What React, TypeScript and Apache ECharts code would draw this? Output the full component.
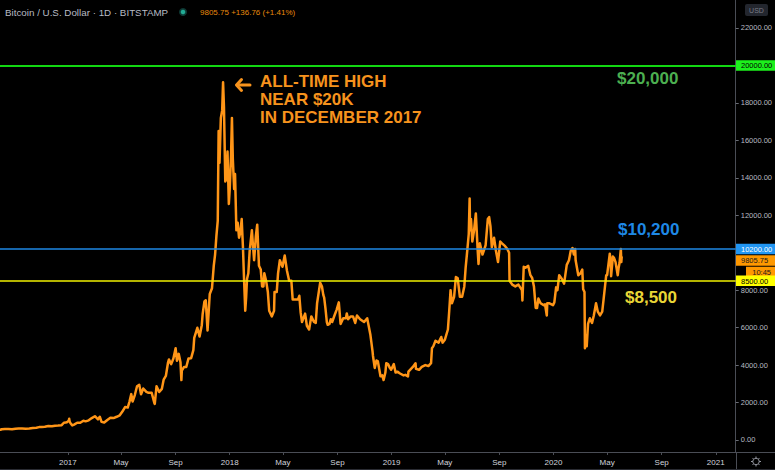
import React, { useEffect, useRef } from "react";
import * as echarts from "echarts";

// ---- Data (daily close readings, BTC/USD, Bitstamp) ----
const btc2016: [string, number][] = [
  ["2016-08-01", 606], ["2016-08-02", 547], ["2016-08-05", 575], ["2016-08-12", 587],
  ["2016-08-20", 581], ["2016-08-28", 573], ["2016-09-05", 605], ["2016-09-12", 608],
  ["2016-09-20", 608], ["2016-09-28", 604], ["2016-10-06", 612], ["2016-10-14", 638],
  ["2016-10-22", 657], ["2016-10-28", 688], ["2016-11-03", 688], ["2016-11-10", 712],
  ["2016-11-18", 750], ["2016-11-26", 735], ["2016-12-03", 765], ["2016-12-10", 773],
  ["2016-12-18", 790], ["2016-12-23", 920], ["2016-12-27", 930], ["2016-12-31", 963],
];
const btc2017: [string, number][] = [
  ["2017-01-03", 1030], ["2017-01-04", 1135], ["2017-01-05", 990], ["2017-01-07", 895],
  ["2017-01-11", 780], ["2017-01-15", 822], ["2017-01-22", 921], ["2017-01-29", 918],
  ["2017-02-05", 1025], ["2017-02-10", 995], ["2017-02-17", 1050], ["2017-02-24", 1170],
  ["2017-03-03", 1270], ["2017-03-10", 1100], ["2017-03-14", 1240], ["2017-03-18", 970],
  ["2017-03-24", 930], ["2017-03-31", 1070], ["2017-04-07", 1190], ["2017-04-14", 1170],
  ["2017-04-21", 1240], ["2017-04-28", 1320], ["2017-05-04", 1520], ["2017-05-10", 1760],
  ["2017-05-16", 1730], ["2017-05-20", 2050], ["2017-05-24", 2450], ["2017-05-27", 2050],
  ["2017-06-01", 2400], ["2017-06-06", 2870], ["2017-06-11", 2950], ["2017-06-15", 2440],
  ["2017-06-20", 2750], ["2017-06-27", 2570], ["2017-07-02", 2520], ["2017-07-09", 2520],
  ["2017-07-15", 1980], ["2017-07-16", 1930], ["2017-07-20", 2870], ["2017-07-26", 2560],
  ["2017-08-01", 2730], ["2017-08-05", 3220], ["2017-08-10", 3420], ["2017-08-15", 4150],
  ["2017-08-17", 4300], ["2017-08-22", 4050], ["2017-08-27", 4350], ["2017-09-01", 4900],
  ["2017-09-04", 4230], ["2017-09-08", 4600], ["2017-09-12", 4150], ["2017-09-14", 3200],
  ["2017-09-15", 3700], ["2017-09-20", 3900], ["2017-09-25", 3900], ["2017-09-30", 4350],
  ["2017-10-06", 4370], ["2017-10-11", 4800], ["2017-10-13", 5450], ["2017-10-20", 5990],
  ["2017-10-25", 5530], ["2017-10-30", 6130], ["2017-11-01", 6730], ["2017-11-05", 7400],
  ["2017-11-08", 7460], ["2017-11-12", 5850], ["2017-11-17", 7800], ["2017-11-22", 8100],
  ["2017-11-26", 9300], ["2017-11-29", 9900], ["2017-12-02", 10900], ["2017-12-05", 11700],
  ["2017-12-07", 16500], ["2017-12-09", 14800], ["2017-12-12", 17200], ["2017-12-15", 17600],
  ["2017-12-17", 19100], ["2017-12-19", 17800], ["2017-12-20", 16500], ["2017-12-22", 13800],
  ["2017-12-24", 13900], ["2017-12-27", 15400], ["2017-12-30", 12600],
];
const btc2018: [string, number][] = [
  ["2018-01-01", 13400], ["2018-01-04", 15200], ["2018-01-06", 17200], ["2018-01-08", 15000],
  ["2018-01-11", 13400], ["2018-01-13", 14200], ["2018-01-16", 11200], ["2018-01-17", 11250],
  ["2018-01-19", 11600], ["2018-01-22", 10800], ["2018-01-25", 11100], ["2018-01-28", 11800],
  ["2018-01-31", 10200], ["2018-02-02", 8800], ["2018-02-05", 6900], ["2018-02-07", 7600],
  ["2018-02-09", 8600], ["2018-02-12", 8900], ["2018-02-15", 10100], ["2018-02-20", 11200],
  ["2018-02-23", 10200], ["2018-02-25", 9600], ["2018-03-01", 10900], ["2018-03-04", 11500],
  ["2018-03-08", 9300], ["2018-03-12", 9100], ["2018-03-15", 8200], ["2018-03-18", 8200],
  ["2018-03-20", 8900], ["2018-03-24", 8500], ["2018-03-28", 7900], ["2018-03-31", 6900],
  ["2018-04-06", 6600], ["2018-04-11", 6900], ["2018-04-12", 7900], ["2018-04-17", 7900],
  ["2018-04-20", 8900], ["2018-04-24", 9600], ["2018-04-30", 9250], ["2018-05-05", 9850],
  ["2018-05-10", 9050], ["2018-05-15", 8500], ["2018-05-20", 8500], ["2018-05-23", 7500],
  ["2018-05-29", 7500], ["2018-06-04", 7500], ["2018-06-07", 7700], ["2018-06-10", 6800],
  ["2018-06-13", 6300], ["2018-06-20", 6750], ["2018-06-24", 6100], ["2018-06-29", 5900],
  ["2018-07-04", 6600], ["2018-07-10", 6300], ["2018-07-14", 6250], ["2018-07-17", 7300],
  ["2018-07-24", 8400], ["2018-07-28", 8200], ["2018-07-31", 7750], ["2018-08-02", 7600],
  ["2018-08-05", 7000], ["2018-08-08", 6300], ["2018-08-10", 6150], ["2018-08-14", 6200],
  ["2018-08-17", 6450], ["2018-08-20", 6300], ["2018-08-26", 6700], ["2018-08-30", 6950],
  ["2018-09-04", 7350], ["2018-09-08", 6200], ["2018-09-14", 6500], ["2018-09-20", 6500],
  ["2018-09-22", 6750], ["2018-09-25", 6450], ["2018-10-01", 6600], ["2018-10-06", 6600],
  ["2018-10-11", 6250], ["2018-10-15", 6650], ["2018-10-22", 6450], ["2018-10-31", 6300],
  ["2018-11-07", 6500], ["2018-11-14", 5650], ["2018-11-19", 4750], ["2018-11-20", 4500],
  ["2018-11-24", 3850], ["2018-11-28", 4250], ["2018-12-01", 4200], ["2018-12-07", 3400],
  ["2018-12-11", 3450], ["2018-12-14", 3200], ["2018-12-18", 3600], ["2018-12-20", 4100],
  ["2018-12-24", 4050], ["2018-12-28", 3850], ["2018-12-31", 3750],
];
const btc2019: [string, number][] = [
  ["2019-01-06", 4050], ["2019-01-10", 3600], ["2019-01-14", 3650], ["2019-01-20", 3550],
  ["2019-01-28", 3450], ["2019-02-01", 3480], ["2019-02-07", 3400], ["2019-02-08", 3650],
  ["2019-02-18", 3900], ["2019-02-24", 4100], ["2019-02-25", 3800], ["2019-03-04", 3750],
  ["2019-03-10", 3900], ["2019-03-18", 4000], ["2019-03-25", 3950], ["2019-03-31", 4100],
  ["2019-04-02", 4900], ["2019-04-05", 5000], ["2019-04-10", 5300], ["2019-04-17", 5200],
  ["2019-04-23", 5500], ["2019-04-26", 5200], ["2019-05-01", 5350], ["2019-05-08", 5900],
  ["2019-05-11", 6900], ["2019-05-14", 8000], ["2019-05-17", 7300], ["2019-05-22", 7650],
  ["2019-05-26", 8700], ["2019-05-30", 8650], ["2019-06-04", 7650], ["2019-06-09", 7650],
  ["2019-06-14", 8200], ["2019-06-17", 9200], ["2019-06-21", 10200], ["2019-06-24", 11000],
  ["2019-06-26", 12900], ["2019-06-27", 11200], ["2019-06-29", 11800], ["2019-07-02", 10600],
  ["2019-07-06", 11200], ["2019-07-10", 12100], ["2019-07-14", 10200], ["2019-07-16", 9400],
  ["2019-07-19", 10500], ["2019-07-25", 9900], ["2019-08-01", 10400], ["2019-08-06", 11800],
  ["2019-08-09", 11900], ["2019-08-12", 11400], ["2019-08-15", 10300], ["2019-08-20", 10800],
  ["2019-08-24", 10150], ["2019-08-29", 9500], ["2019-09-03", 10600], ["2019-09-07", 10500],
  ["2019-09-14", 10350], ["2019-09-19", 10200], ["2019-09-23", 10000], ["2019-09-24", 8500],
  ["2019-09-30", 8300], ["2019-10-07", 8200], ["2019-10-14", 8300], ["2019-10-22", 8000],
  ["2019-10-23", 7450], ["2019-10-25", 8650], ["2019-10-26", 9250], ["2019-10-30", 9200],
  ["2019-11-05", 9300], ["2019-11-10", 8800], ["2019-11-14", 8650], ["2019-11-18", 8200],
  ["2019-11-22", 7050], ["2019-11-25", 7050], ["2019-11-28", 7550], ["2019-12-03", 7300],
  ["2019-12-10", 7200], ["2019-12-13", 7250], ["2019-12-17", 6650], ["2019-12-18", 7300],
  ["2019-12-23", 7300], ["2019-12-31", 7200],
];
const btc2020: [string, number][] = [
  ["2020-01-03", 7350], ["2020-01-07", 8150], ["2020-01-10", 8000], ["2020-01-14", 8800],
  ["2020-01-20", 8600], ["2020-01-25", 8350], ["2020-01-31", 9350], ["2020-02-05", 9600],
  ["2020-02-09", 10100], ["2020-02-13", 10250], ["2020-02-16", 9900], ["2020-02-19", 10200],
  ["2020-02-20", 9600], ["2020-02-26", 8800], ["2020-03-02", 8900], ["2020-03-06", 9100],
  ["2020-03-08", 8050], ["2020-03-11", 7900], ["2020-03-12", 4900], ["2020-03-13", 5600],
  ["2020-03-16", 5000], ["2020-03-19", 6200], ["2020-03-23", 6500], ["2020-03-28", 6250],
  ["2020-04-01", 6650], ["2020-04-06", 7300], ["2020-04-10", 6850], ["2020-04-15", 6650],
  ["2020-04-20", 6850], ["2020-04-23", 7500], ["2020-04-29", 8800], ["2020-05-01", 8800],
  ["2020-05-07", 9950], ["2020-05-09", 9550], ["2020-05-10", 8750], ["2020-05-14", 9800],
  ["2020-05-17", 9700], ["2020-05-20", 9500], ["2020-05-25", 8800], ["2020-05-27", 9200],
  ["2020-05-29", 9450], ["2020-06-01", 10200], ["2020-06-02", 9500], ["2020-06-03", 9805.75],
];

const yTickValues = [0, 2000, 4000, 6000, 8000, 10000, 12000, 14000, 16000, 18000, 20000, 22000];
// 10000.00 is hidden behind the price tags in the reference
const yLabelValues = [0, 2000, 4000, 6000, 8000, 12000, 14000, 16000, 18000, 20000, 22000];
const xTickDates = [
  "2017-01-01", "2017-05-01", "2017-09-01", "2018-01-01", "2018-05-01", "2018-09-01",
  "2019-01-01", "2019-05-01", "2019-09-01", "2020-01-01", "2020-05-01", "2020-09-01", "2021-01-01",
];
const monthNames = ["Jan", "Feb", "Mar", "Apr", "May", "Jun", "Jul", "Aug", "Sep", "Oct", "Nov", "Dec"];

const levelValues = [20000, 10200, 8500];
const levelTexts = ["$20,000", "$10,200", "$8,500"];
const levelLineColors = ["#12d812", "#1e88e5", "#f0f000"];
const levelBoxColors = ["#1cf01c", "#2196f3", "#ffff00"];
const levelBoxTextColors = ["#000000", "#ffffff", "#000000"];
const levelTextColors = ["#4caf50", "#1e88e5", "#e9d636"];

const headerTitle = "Bitcoin / U.S. Dollar · 1D · BITSTAMP";
const lastPrice = 9805.75;
const priceChange = "+136.76 (+1.41%)";
const countdown = "10:45";
const athLines = ["ALL-TIME HIGH", "NEAR $20K", "IN DECEMBER 2017"];

const X_MIN = "2016-08-01";
const X_MAX = "2021-02-15";
const Y_MIN = -641;
const Y_MAX = 23495;

const ORANGE = "#ff9517";
const FONT = '"Liberation Sans", Arial, sans-serif';

function ts(s: string): number {
  const [y, m, d] = s.split("-").map(Number);
  return Date.UTC(y, m - 1, d);
}

export default function App() {
  const ref = useRef<HTMLDivElement>(null);

  useEffect(() => {
    document.body.style.margin = "0";
    document.body.style.background = "#000";
    const chart = echarts.init(ref.current!, null, { renderer: "svg" });
    const all = [...btc2016, ...btc2017, ...btc2018, ...btc2019, ...btc2020];
    const seriesData = all.map(([d, v]) => [ts(d), v]);
    const xTicks = xTickDates.map(ts);

    chart.setOption({
      animation: false,
      backgroundColor: "#000000",
      grid: { left: 0, right: 39, top: 0, bottom: 18, containLabel: false },
      xAxis: {
        type: "value",
        min: ts(X_MIN),
        max: ts(X_MAX),
        splitLine: { show: false },
        axisLine: { show: true, onZero: false, lineStyle: { color: "#4a4d55", width: 1 } },
        axisTick: { show: true, customValues: xTicks, length: 3, lineStyle: { color: "#4a4d55" } },
        axisLabel: {
          customValues: xTicks,
          color: "#d1d4dc",
          fontSize: 8,
          fontFamily: FONT,
          margin: 6,
          formatter: (v: number) => {
            const d = new Date(v);
            return d.getUTCMonth() === 0 ? String(d.getUTCFullYear()) : monthNames[d.getUTCMonth()];
          },
        },
      },
      yAxis: {
        type: "value",
        position: "right",
        min: Y_MIN,
        max: Y_MAX,
        splitLine: { show: false },
        axisLine: { show: true, onZero: false, lineStyle: { color: "#4a4d55", width: 1 } },
        axisTick: { show: true, customValues: yTickValues, length: 3, lineStyle: { color: "#6a6d75" } },
        axisLabel: {
          customValues: yLabelValues,
          color: "#b8bbc2",
          fontSize: 7.5,
          fontFamily: FONT,
          margin: 5,
          formatter: (v: number) => v.toFixed(2),
        },
      },
      series: [
        {
          type: "line",
          data: [],
          z: 1,
          silent: true,
          markLine: {
            silent: true,
            symbol: "none",
            label: { show: false },
            data: levelValues.map((v, i) => ({
              yAxis: v,
              lineStyle: { color: levelLineColors[i], width: i === 0 ? 2 : 1.5, type: "solid" },
            })),
          },
        },
        {
          type: "line",
          data: seriesData,
          z: 3,
          showSymbol: false,
          symbol: "none",
          lineStyle: { color: ORANGE, width: 2.5, join: "round" },
          itemStyle: { color: ORANGE },
        },
      ],
    });

    const py = (v: number) => chart.convertToPixel({ yAxisIndex: 0 }, v) as number;
    const AX = 736;
    const boxH = 10.5;
    const graphics: any[] = [];

    graphics.push({
      type: "text", x: 5, y: 12, z: 100,
      style: { text: headerTitle, fill: "#b8bbc4", fontSize: 9.8, fontFamily: FONT, verticalAlign: "middle" },
    });
    graphics.push({ type: "circle", shape: { cx: 183, cy: 12, r: 4 }, z: 100, style: { fill: "#0e3a35" } });
    graphics.push({ type: "circle", shape: { cx: 183, cy: 12, r: 2.3 }, z: 101, style: { fill: "#22ab94" } });
    graphics.push({
      type: "text", x: 200, y: 12, z: 100,
      style: {
        text: lastPrice.toFixed(2) + " " + priceChange, fill: "#e8890c", fontSize: 8,
        fontFamily: FONT, verticalAlign: "middle",
      },
    });
    graphics.push({ type: "rect", shape: { x: 745, y: 4, width: 23, height: 12, r: 2 }, z: 100, style: { fill: "#23262e" } });
    graphics.push({
      type: "text", x: 756.5, y: 10.5, z: 101,
      style: { text: "USD", fill: "#787b86", fontSize: 7, fontFamily: FONT, align: "center", verticalAlign: "middle" },
    });

    athLines.forEach((t, i) => {
      graphics.push({
        type: "text", x: 260, y: 81 + i * 18, z: 100,
        style: { text: t, fill: "#f7931d", fontSize: 17, fontWeight: "bold", fontFamily: FONT, verticalAlign: "middle" },
      });
    });
    graphics.push({
      type: "polyline", z: 100,
      shape: { points: [[241.5, 79.5], [236.5, 85], [241.5, 90.5]] },
      style: { stroke: "#f7931d", lineWidth: 3, fill: null, lineCap: "round", lineJoin: "round" },
    });
    graphics.push({
      type: "line", z: 100,
      shape: { x1: 237, y1: 85, x2: 250, y2: 85 },
      style: { stroke: "#f7931d", lineWidth: 3, lineCap: "round" },
    });

    const levelTextX = [617, 618, 625];
    const levelTextDy = [13, -19, 17];
    levelValues.forEach((v, i) => {
      graphics.push({
        type: "text", x: levelTextX[i], y: py(v) + levelTextDy[i], z: 100,
        style: {
          text: levelTexts[i], fill: levelTextColors[i], fontSize: 17, fontWeight: "bold",
          fontFamily: FONT, verticalAlign: "middle",
        },
      });
    });

    const addBox = (x: number, yc: number, w: number, fill: string, color: string, text: string) => {
      graphics.push({ type: "rect", z: 110, shape: { x, y: yc - boxH / 2, width: w, height: boxH }, style: { fill } });
      graphics.push({
        type: "text", z: 111, x: x + 5, y: yc + 0.5,
        style: { text, fill: color, fontSize: 7.5, fontFamily: FONT, verticalAlign: "middle" },
      });
    };
    levelValues.forEach((v, i) => {
      addBox(AX, py(v), 39, levelBoxColors[i], levelBoxTextColors[i], v.toFixed(2));
    });
    const blueBottom = py(levelValues[1]) + boxH / 2;
    const priceC = blueBottom + 1 + boxH / 2;
    addBox(AX, priceC, 39, "#ff9800", "#1a1a1a", lastPrice.toFixed(2));
    const timeC = priceC + boxH + 1;
    graphics.push({ type: "rect", z: 109, shape: { x: 746, y: timeC - boxH / 2, width: 29, height: boxH }, style: { fill: "#ff9800" } });
    graphics.push({
      type: "text", z: 111, x: 771, y: timeC + 0.5,
      style: { text: countdown, fill: "#1a1a1a", fontSize: 7.5, fontFamily: FONT, align: "right", verticalAlign: "middle" },
    });

    graphics.push({ type: "line", z: 50, shape: { x1: 736, y1: 452.5, x2: 775, y2: 452.5 }, style: { stroke: "#4a4d55", lineWidth: 1 } });
    graphics.push({ type: "line", z: 50, shape: { x1: 736.5, y1: 452, x2: 736.5, y2: 470 }, style: { stroke: "#4a4d55", lineWidth: 1 } });
    graphics.push({ type: "line", z: 50, shape: { x1: 0, y1: 469.5, x2: 775, y2: 469.5 }, style: { stroke: "#2a2c33", lineWidth: 1 } });

    graphics.push({ type: "circle", z: 100, shape: { cx: 756, cy: 461.5, r: 3.2 }, style: { fill: null, stroke: "#9598a1", lineWidth: 1 } });
    for (let k = 0; k < 8; k++) {
      const a = (k * Math.PI) / 4;
      graphics.push({
        type: "line", z: 100,
        shape: {
          x1: 756 + Math.cos(a) * 3.2, y1: 461.5 + Math.sin(a) * 3.2,
          x2: 756 + Math.cos(a) * 5, y2: 461.5 + Math.sin(a) * 5,
        },
        style: { stroke: "#9598a1", lineWidth: 1 },
      });
    }

    chart.setOption({ graphic: graphics });
    return () => chart.dispose();
  }, []);

  return <div ref={ref} style={{ width: 775, height: 470, background: "#000" }} />;
}
